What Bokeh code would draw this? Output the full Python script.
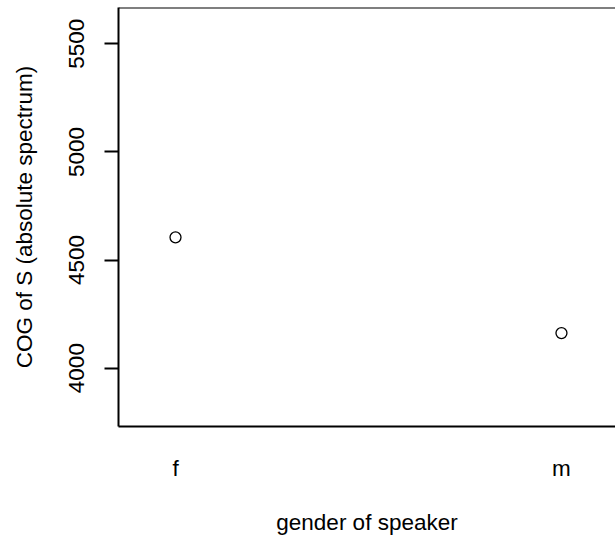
from bokeh.plotting import figure
from bokeh.models import FixedTicker, Span, Range1d
from bokeh.embed import file_html
from bokeh.resources import INLINE

categories = ["f", "m"]
cat_pos = [1, 2]
cog_values = [4605, 4162]
y_ticks = [4000, 4500, 5000, 5500]

FONT = "Liberation Sans"
FS = "22.5px"

p = figure(width=615, height=537, output_backend="svg", toolbar_location=None,
           x_range=Range1d(0.8523, 2.140), y_range=Range1d(3730, 5668),
           min_border_left=118, min_border_right=0, min_border_top=7, min_border_bottom=111)
p.outline_line_color = None
p.grid.visible = False
p.background_fill_color = "white"
p.border_fill_color = "white"

p.scatter(cat_pos, cog_values, marker="circle", size=11, fill_color=None,
          line_color="black", line_width=1.3)

# x axis
xa = p.xaxis[0]
xa.ticker = FixedTicker(ticks=cat_pos)
xa.major_label_overrides = {c: l for c, l in zip(cat_pos, categories)}
xa.major_tick_out = 0
xa.major_tick_in = 0
xa.minor_tick_out = 0
xa.minor_tick_in = 0
xa.axis_line_width = 2
xa.axis_line_color = "black"
xa.major_label_standoff = 29
xa.major_label_text_font = FONT
xa.major_label_text_font_size = FS
xa.major_label_text_color = "black"
xa.axis_label = "gender of speaker"
xa.axis_label_text_font = FONT
xa.axis_label_text_font_size = FS
xa.axis_label_text_font_style = "normal"
xa.axis_label_text_color = "black"
xa.axis_label_standoff = 26

# y axis
ya = p.yaxis[0]
ya.ticker = FixedTicker(ticks=y_ticks)
ya.minor_tick_out = 0
ya.minor_tick_in = 0
ya.major_tick_in = 0
ya.major_tick_out = 14
ya.major_tick_line_width = 2
ya.major_tick_line_color = "black"
ya.axis_line_width = 2
ya.axis_line_color = "black"
ya.major_label_orientation = "vertical"
ya.major_label_standoff = 20
ya.major_label_text_font = FONT
ya.major_label_text_font_size = FS
ya.major_label_text_color = "black"
ya.axis_label = "COG of S (absolute spectrum)"
ya.axis_label_text_font = FONT
ya.axis_label_text_font_size = FS
ya.axis_label_text_font_style = "normal"
ya.axis_label_text_color = "black"
ya.axis_label_standoff = 30

# top border of the box
p.add_layout(Span(location=5668, dimension="width", line_color="black", line_width=2))

open("out.html", "w").write(file_html(p, INLINE))
